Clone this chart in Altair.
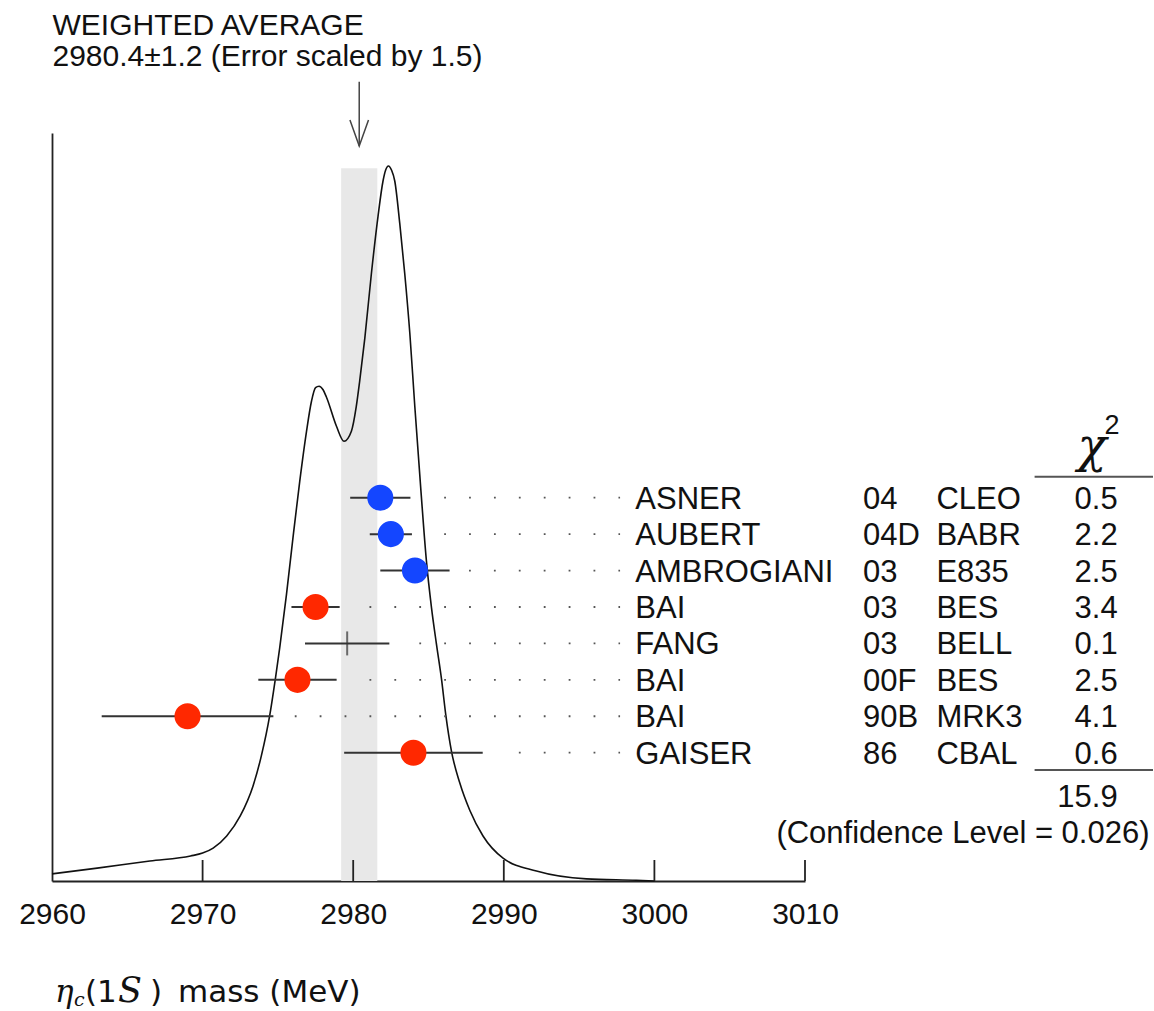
import altair as alt
import pandas as pd

# ---- eta_c(1S) mass measurements (MeV) ----
authors = ["ASNER", "AUBERT", "AMBROGIANI", "BAI", "FANG", "BAI", "BAI", "GAISER"]
years = ["04", "04D", "03", "03", "03", "00F", "90B", "86"]
experiments = ["CLEO", "BABR", "E835", "BES", "BELL", "BES", "MRK3", "CBAL"]
masses = [2981.8, 2982.5, 2984.1, 2977.5, 2979.6, 2976.3, 2969.0, 2984.0]
errors = [2.0, 1.4, 2.3, 1.6, 2.8, 2.6, 5.7, 4.6]
chi2 = ["0.5", "2.2", "2.5", "3.4", "0.1", "2.5", "4.1", "0.6"]
marker = ["blue", "blue", "blue", "red", "none", "red", "red", "red"]
# first leader dot of each row and the common last one (MeV)
leader_from = [2986.04, 2986.04, 2987.69, 2981.08, 2984.39, 2981.08, 2976.12, 2991.0]
leader_to = 2997.72

# weighted average
avg, avg_err, err_scale = 2980.4, 1.2, 1.5
band_top = 0.997
chi2_total = "15.9"
conf_level = "0.026"

# ideogram (relative height, peak = 1)
ideo_mass = [2960.0, 2963.0, 2966.5, 2969.2, 2970.0, 2970.7, 2971.6, 2972.5, 2973.35,
             2973.9, 2974.46, 2974.86, 2975.12, 2975.57, 2976.0, 2976.45, 2976.9,
             2977.23, 2977.5, 2977.73, 2978.0, 2978.22, 2978.89, 2979.39, 2979.88,
             2980.2, 2980.43, 2980.77, 2981.21, 2981.65, 2981.98, 2982.15, 2982.34,
             2982.55, 2982.76, 2983.09, 2983.42, 2983.76, 2984.09, 2984.5, 2984.86,
             2985.2, 2985.53, 2985.86, 2986.15, 2986.52, 2987.08, 2987.74, 2988.62,
             2989.95, 2992.17, 2995.49, 2998.8, 3000.0]
ideo_height = [0.010, 0.018, 0.028, 0.035, 0.039, 0.046, 0.063, 0.091, 0.133,
               0.175, 0.232, 0.287, 0.326, 0.401, 0.480, 0.559, 0.629,
               0.671, 0.690, 0.692, 0.687, 0.677, 0.636, 0.615, 0.629,
               0.663, 0.699, 0.759, 0.850, 0.930, 0.979, 0.994, 1.000,
               0.994, 0.979, 0.920, 0.850, 0.766, 0.664, 0.545, 0.448,
               0.382, 0.331, 0.283, 0.232, 0.182, 0.137, 0.099, 0.063,
               0.032, 0.014, 0.003, 0.001, 0.0]

tick_values = [2960, 2970, 2980, 2990, 3000, 3010]

# ---- layout ----
W, H = 753, 748
OX, OY = 52, 133
SANS = "Liberation Sans, Arial, Helvetica, sans-serif"
INK = "#111111"
LINE = "#333333"

rows = pd.DataFrame({
    "row": list(range(len(authors))),
    "author": authors, "year": years, "exp": experiments,
    "mass": masses, "err": errors, "chi2": chi2, "marker": marker,
    "lead0": leader_from,
})
rows["lo"] = rows["mass"] - rows["err"]
rows["hi"] = rows["mass"] + rows["err"]
rows["lead1"] = leader_to

ideo = pd.DataFrame({"mass": ideo_mass, "h": ideo_height})
band = pd.DataFrame({"lo": [avg - avg_err], "hi": [avg + avg_err], "top": [band_top]})
arrow = pd.DataFrame({"mass": [avg]})
ticks = pd.DataFrame({"mass": tick_values[1:]})
one = pd.DataFrame({"k": [0]})

xscale = alt.Scale(domain=[tick_values[0], tick_values[-1]], nice=False, zero=False)
hscale = alt.Scale(domain=[0, H / 715], nice=False, zero=False)
rscale = alt.Scale(type="point", domain=list(range(len(authors))),
                   range=[497.7 - OY, 752.7 - OY], padding=0)

band_layer = alt.Chart(band).mark_rect(color="#e8e8e8").encode(
    x=alt.X("lo:Q", scale=xscale),
    x2="hi:Q",
    y=alt.Y("top:Q", scale=hscale, axis=None),
    y2=alt.datum(0),
)

curve = alt.Chart(ideo).mark_line(color=INK, strokeWidth=1.6, interpolate="monotone").encode(
    x=alt.X("mass:Q", scale=xscale, axis=alt.Axis(
        values=tick_values, format="d", title=None, ticks=False, tickSize=0,
        grid=False, domainColor="#222222", domainWidth=1.8,
        labelFont=SANS, labelFontSize=30, labelColor=INK, labelPadding=42,
        labelBaseline="alphabetic", labelFlush=False, labelOverlap=False)),
    y=alt.Y("h:Q", scale=hscale, axis=alt.Axis(
        labels=False, ticks=False, grid=False, title=None,
        domainColor="#222222", domainWidth=1.8)),
)

tick_layer = alt.Chart(ticks).mark_rule(color="#222222", strokeWidth=1.8).encode(
    x=alt.X("mass:Q", scale=xscale),
    y=alt.value(H - 21), y2=alt.value(H),
)

shaft = alt.Chart(arrow).mark_rule(color="#444444", strokeWidth=1.5).encode(
    x=alt.X("mass:Q", scale=xscale),
    y=alt.value(81.7 - OY), y2=alt.value(146 - OY),
)
head = alt.Chart(arrow).mark_point(
    shape="M -0.357 -1 L 0 0 L 0.357 -1", size=2704, filled=False,
    stroke="#444444", strokeWidth=1.5, opacity=1,
).encode(
    x=alt.X("mass:Q", scale=xscale),
    y=alt.value(146 - OY),
)

errbars = alt.Chart(rows).mark_rule(color=LINE, strokeWidth=2).encode(
    x=alt.X("lo:Q", scale=xscale), x2="hi:Q",
    y=alt.Y("row:O", scale=rscale, axis=None),
)

leaders = alt.Chart(rows).mark_rule(
    color="#555555", strokeWidth=1.8, strokeDash=[1.8, 23.1], strokeCap="butt"
).encode(
    x=alt.X("lead0:Q", scale=xscale), x2="lead1:Q",
    y=alt.Y("row:O", scale=rscale, axis=None),
)

dots = alt.Chart(rows).transform_filter(alt.datum.marker != "none").mark_circle(
    size=680, opacity=1
).encode(
    x=alt.X("mass:Q", scale=xscale),
    y=alt.Y("row:O", scale=rscale, axis=None),
    color=alt.Color("marker:N", scale=alt.Scale(domain=["blue", "red"],
                                                range=["#1446ff", "#ff2800"]), legend=None),
)

plain = alt.Chart(rows).transform_filter(alt.datum.marker == "none").mark_tick(
    color=LINE, thickness=2, size=24, orient="vertical"
).encode(
    x=alt.X("mass:Q", scale=xscale),
    y=alt.Y("row:O", scale=rscale, axis=None),
)


def column(field, x_abs, align="left"):
    return alt.Chart(rows).mark_text(
        align=align, baseline="alphabetic", dy=11, font=SANS, fontSize=31, color=INK
    ).encode(
        x=alt.value(x_abs - OX),
        y=alt.Y("row:O", scale=rscale, axis=None),
        text=f"{field}:N",
    )


def label(text, x_abs, y_abs, size=31, align="left", font=SANS, style="normal"):
    return alt.Chart(one).mark_text(
        text=text, align=align, baseline="alphabetic", font=font,
        fontSize=size, fontStyle=style, color=INK,
    ).encode(x=alt.value(x_abs - OX), y=alt.value(y_abs - OY))


def hline(x0_abs, x1_abs, y_abs):
    return alt.Chart(one).mark_rule(color="#555555", strokeWidth=2).encode(
        x=alt.value(x0_abs - OX), x2=alt.value(x1_abs - OX), y=alt.value(y_abs - OY)
    )


texts = [
    column("author", 635.3),
    column("year", 863),
    column("exp", 936.4),
    column("chi2", 1117.7, align="right"),
    label("WEIGHTED AVERAGE", 52.5, 35, size=30),
    label(f"{avg}\u00b1{avg_err} (Error scaled by {err_scale})", 52.5, 66, size=30),
    label("\u03c7", 1092, 462, size=48, align="center", font="DejaVu Serif", style="italic"),
    label("2", 1112, 434, size=27, align="center"),
    hline(1034.6, 1153, 476.7),
    hline(1034.6, 1153, 770),
    label(chi2_total, 1117.7, 807, align="right"),
    label(f"(Confidence Level = {conf_level})", 1149.5, 843, align="right"),
    # axis title: eta_c(1S) mass (MeV)
    label("\u03b7", 55, 1001.7, size=31, font="DejaVu Serif", style="italic"),
    label("c", 74, 1006, size=19, font="DejaVu Serif", style="italic"),
    label("(1", 85, 1001.7, size=31, font="DejaVu Sans"),
    label("S", 118, 1001.7, size=35, font="DejaVu Serif", style="italic"),
    label(")", 150, 1001.7, size=31, font="DejaVu Sans"),
    label("mass (MeV)", 178, 1001.7, size=31, font="DejaVu Sans"),
]

chart = alt.layer(
    band_layer, curve, tick_layer, shaft, head, errbars, leaders, dots, plain, *texts
).resolve_scale(y="independent").properties(
    width=W, height=H,
    autosize=alt.AutoSizeParams(type="none"),
    padding={"left": OX, "top": OY, "right": 1154 - OX - W, "bottom": 1011 - OY - H},
    background="white",
).configure_view(stroke=None).configure_axis(grid=False)

chart.save("out.html", embed_options={"renderer": "svg", "actions": False})
